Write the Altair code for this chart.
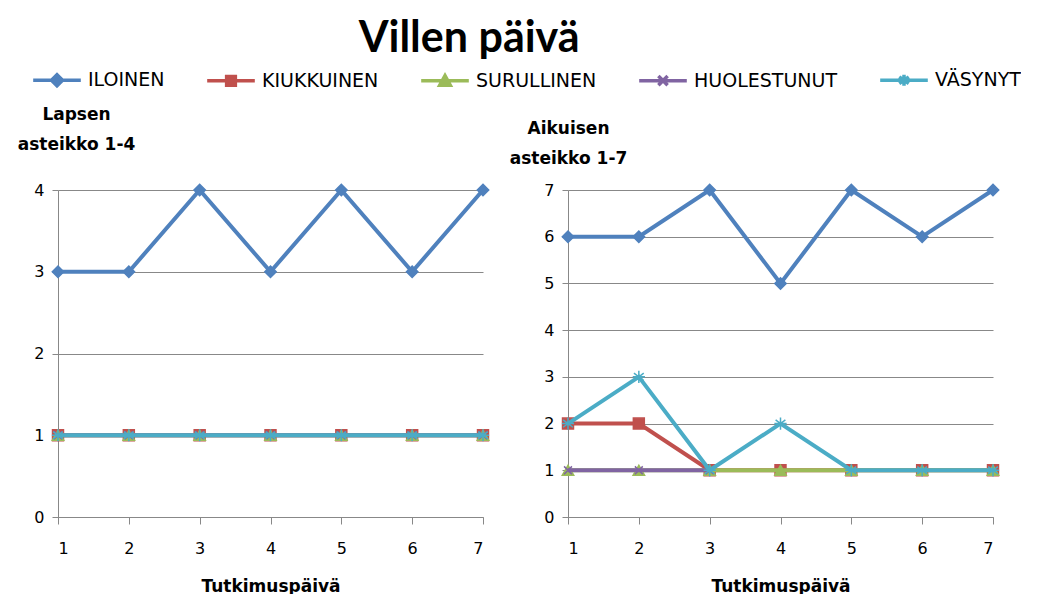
import altair as alt
import pandas as pd

days = [1, 2, 3, 4, 5, 6, 7]
series = ["ILOINEN", "KIUKKUINEN", "SURULLINEN", "HUOLESTUNUT", "VÄSYNYT"]
colors = ["#4F81BD", "#C0504D", "#9BBB59", "#8064A2", "#4BACC6"]

child_iloinen = [3, 3, 4, 3, 4, 3, 4]
child_kiukkuinen = [1, 1, 1, 1, 1, 1, 1]
child_surullinen = [1, 1, 1, 1, 1, 1, 1]
child_huolestunut = [1, 1, 1, 1, 1, 1, 1]
child_vasynyt = [1, 1, 1, 1, 1, 1, 1]

adult_iloinen = [6, 6, 7, 5, 7, 6, 7]
adult_kiukkuinen = [2, 2, 1, 1, 1, 1, 1]
adult_surullinen = [1, 1, 1, 1, 1, 1, 1]
adult_huolestunut = [1, 1, 1, None, None, None, None]
adult_vasynyt = [2, 3, 1, 2, 1, 1, 1]

child_vals = [child_iloinen, child_kiukkuinen, child_surullinen, child_huolestunut, child_vasynyt]
adult_vals = [adult_iloinen, adult_kiukkuinen, adult_surullinen, adult_huolestunut, adult_vasynyt]

# marker shapes on the plot
x_path = "M-0.75,-0.75L0.75,0.75M-0.75,0.75L0.75,-0.75"
star_path = "M0,-1L0,1M-0.8,-0.6L0.8,0.6M-0.8,0.6L0.8,-0.6M-1,0L1,0"
shapes = ["diamond", "square", "triangle-up", x_path, star_path]
sizes = [130, 120, 130, 110, 150]

# legend symbols: line segment + marker
seg = "M-1.8,0L1.8,0"
legend_shapes = [
    seg + "M0,-0.42L0.42,0L0,0.42L-0.42,0Z",
    seg + "M-0.33,-0.33L0.33,-0.33L0.33,0.33L-0.33,0.33Z",
    seg + "M0,-0.4L0.4,0.33L-0.4,0.33Z",
    seg + "M-0.35,-0.35L0.35,0.35M-0.35,0.35L0.35,-0.35",
    seg + "M0,-0.42L0,0.42M-0.36,-0.25L0.36,0.25M-0.36,0.25L0.36,-0.25",
]


def long_df(vals):
    rows = []
    for s, v in zip(series, vals):
        for d, val in zip(days, v):
            rows.append({"day": d, "series": s, "value": val})
    return pd.DataFrame(rows)


color_scale = alt.Scale(domain=series, range=colors)
legend_shape_scale = alt.Scale(domain=series, range=legend_shapes)


def panel(vals, ymax, title_lines, tx, ty, with_legend):
    df = long_df(vals)
    x = alt.X("day:Q", scale=alt.Scale(domain=[1, 7], nice=False, zero=False),
              axis=alt.Axis(values=days, format="d", title="Tutkimuspäivä", grid=False,
                            tickSize=7, labelPadding=16, titlePadding=22,
                            domainColor="#888888", tickColor="#888888"))
    y = alt.Y("value:Q", scale=alt.Scale(domain=[0, ymax], nice=False),
              axis=alt.Axis(values=list(range(ymax + 1)), format="d", title=title_lines,
                            titleAngle=0, titleAlign="center", titleBaseline="bottom",
                            titleX=tx, titleY=ty, titleLineHeight=30,
                            grid=True, gridColor="#888888", tickSize=6, labelPadding=8,
                            domainColor="#888888", tickColor="#888888"))
    layers = []
    for s, c, shp, sz in zip(series, colors, shapes, sizes):
        base = alt.Chart(df).transform_filter(alt.datum.series == s)
        line = base.mark_line(strokeWidth=4, color=c).encode(x=x, y=y)
        pts = base.mark_point(filled=True, size=sz, shape=shp, fill=c, stroke=c,
                              strokeWidth=1.5, opacity=1).encode(x=x, y=y)
        layers += [line, pts]
    if with_legend:
        leg = alt.Legend(title=None, orient="none", direction="horizontal",
                         legendX=-16, legendY=-125)
        dummy = alt.Chart(df).transform_filter("datum.day < 0").mark_point(
            filled=True, strokeWidth=3.5, opacity=1).encode(
            x=x, y=y,
            color=alt.Color("series:N", scale=color_scale, legend=leg),
            stroke=alt.Stroke("series:N", scale=color_scale, legend=leg),
            shape=alt.Shape("series:N", scale=legend_shape_scale, legend=leg))
        layers.append(dummy)
    return alt.layer(*layers).properties(width=425, height=327)


left = panel(child_vals, 4, ["Lapsen", "asteikko 1-4"], 18, -67, True)
right = panel(adult_vals, 7, ["Aikuisen", "asteikko 1-7"], 0, -53, False)

chart = alt.hconcat(left, right, spacing=85, bounds="flush").properties(
    title=alt.TitleParams("Villen päivä", font="Lato", fontSize=43, fontWeight="bold",
                          anchor="middle", dx=-50, dy=6, offset=10),
    padding={"left": 9, "top": 10, "right": 0, "bottom": 0}
).configure_view(stroke=None).configure_axis(
    labelFont="DejaVu Sans", labelFontSize=16, labelColor="#000000",
    titleFont="DejaVu Sans", titleFontSize=17, titleFontWeight="bold", titleColor="#000000"
).configure_legend(
    labelFont="DejaVu Sans", labelFontSize=19, labelColor="#000000",
    symbolSize=700, symbolStrokeWidth=3.5, columnPadding=35, labelOffset=16
)

chart.save("out.html", embed_options={"renderer": "svg", "actions": False})
